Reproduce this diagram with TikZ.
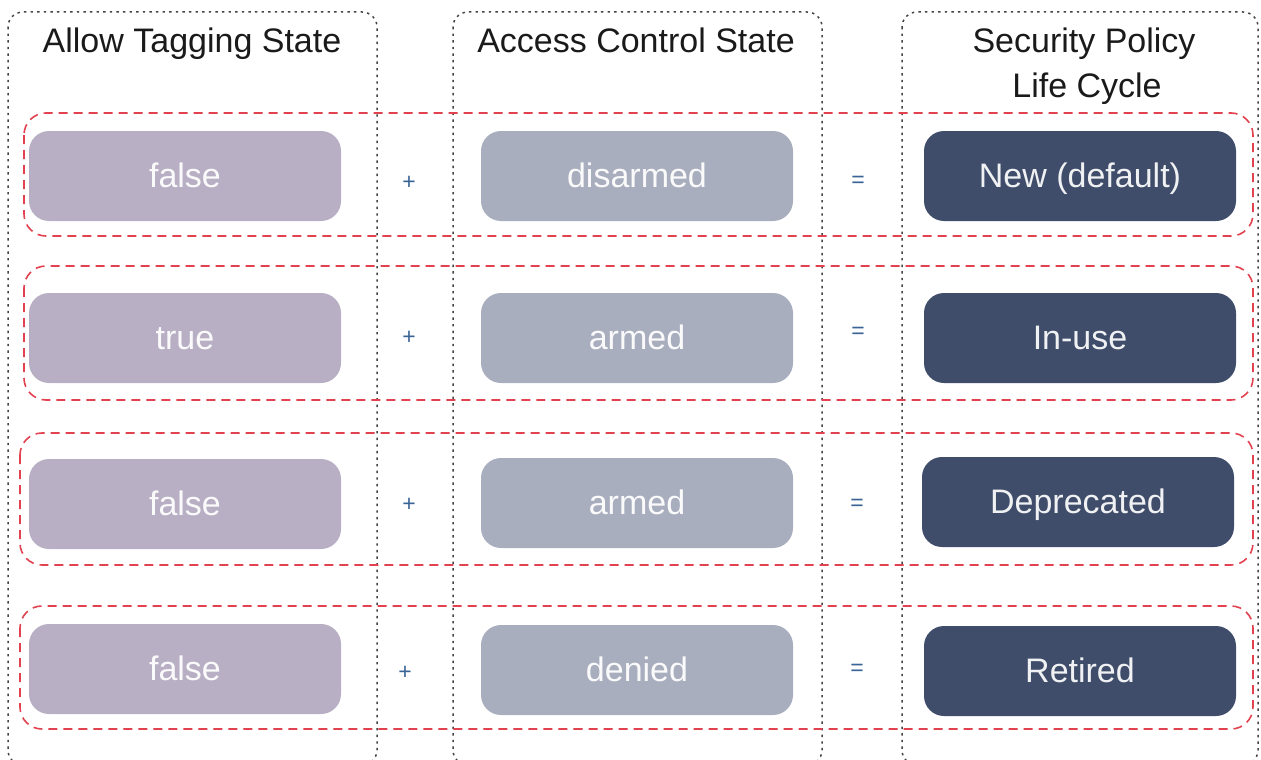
\documentclass[tikz,border=0pt]{standalone}
\usepackage{fontspec}
\setmainfont{Liberation Sans}
\definecolor{pillA}{HTML}{B8AFC5}
\definecolor{pillB}{HTML}{A9AEBF}
\definecolor{pillC}{HTML}{3F4D6B}
\definecolor{reddash}{HTML}{E2414F}
\definecolor{dotgray}{HTML}{444444}
\definecolor{opblue}{HTML}{3A6496}
\definecolor{headtxt}{HTML}{1A1A1A}
\tikzset{
  colbox/.style={draw=dotgray, line width=1.5pt, dash pattern=on 2.4pt off 4.2pt, rounded corners=15pt},
  rowbox/.style={draw=reddash, line width=1.6pt, dash pattern=on 9pt off 6pt, rounded corners=22pt},
  pill/.style={rounded corners=20pt, minimum width=312pt, minimum height=90pt, inner sep=0pt,
    text height=26pt, text depth=4pt, font=\fontsize{34}{40}\selectfont},
  pillleft/.style={pill, fill=pillA, text=white!94!pillA},
  pillmid/.style={pill, fill=pillB, text=white!94!pillB},
  pillright/.style={pill, fill=pillC, text=white!92!pillC},
  head/.style={text=headtxt, font=\fontsize{34}{43}\selectfont, inner sep=0pt, anchor=base},
  opsign/.style={text=opblue, font=\fontsize{23}{25}\selectfont, inner sep=0pt},
}
\begin{document}
\begin{tikzpicture}[x=1pt,y=-1pt]
\useasboundingbox (0,0) rectangle (1261,760);
% column boxes
\draw[colbox] (8,12) rectangle (377,765);
\draw[colbox] (453,12) rectangle (822,765);
\draw[colbox] (902,12) rectangle (1258,765);
% headings
\node[head] (h1) at (192,53) {Allow Tagging State};
\node[head] (h2) at (636,53) {Access Control State};
\node[head] (h3a) at (1084,53) {Security Policy};
\node[head] (h3b) at (1087,97) {Life Cycle};
% row boxes
\draw[rowbox] (24,113) rectangle (1253,236);
\draw[rowbox] (24,266) rectangle (1253,400);
\draw[rowbox] (20,433) rectangle (1253,565);
\draw[rowbox] (20,606) rectangle (1253,729);
% row 1
\node[pillleft] (a1) at (185,176) {false};
\node[opsign] (p1) at (409,183) {+};
\node[pillmid] (b1) at (637,176) {disarmed};
\node[opsign] (e1) at (858,182) {=};
\node[pillright] (c1) at (1080,176) {New (default)};
% row 2
\node[pillleft] (a2) at (185,338) {true};
\node[opsign] (p2) at (409,338) {+};
\node[pillmid] (b2) at (637,338) {armed};
\node[opsign] (e2) at (858,333) {=};
\node[pillright] (c2) at (1080,338) {In-use};
% row 3
\node[pillleft] (a3) at (185,504) {false};
\node[opsign] (p3) at (409,505) {+};
\node[pillmid] (b3) at (637,503) {armed};
\node[opsign] (e3) at (857,505) {=};
\node[pillright] (c3) at (1078,502) {Deprecated};
% row 4
\node[pillleft] (a4) at (185,669) {false};
\node[opsign] (p4) at (405,673) {+};
\node[pillmid] (b4) at (637,670) {denied};
\node[opsign] (e4) at (857,670) {=};
\node[pillright] (c4) at (1080,671) {Retired};
\end{tikzpicture}
\end{document}
